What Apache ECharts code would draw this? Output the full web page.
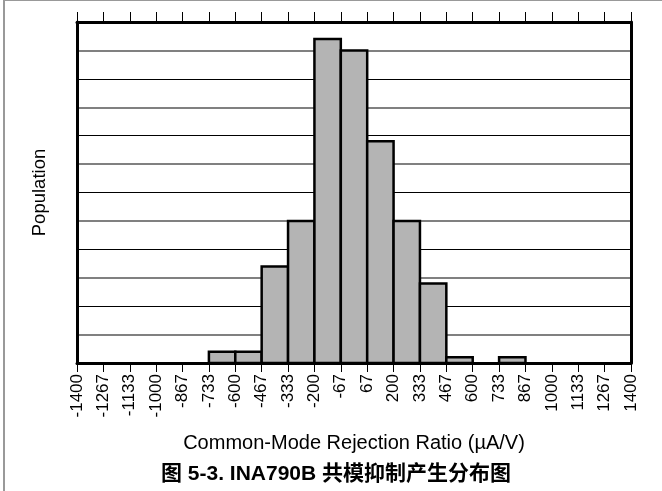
<!DOCTYPE html>
<html>
<head>
<meta charset="utf-8">
<script src="https://cdn.jsdelivr.net/npm/echarts@6/dist/echarts.min.js"></script>
<style>
html,body{margin:0;padding:0;background:#fff;}
#chart{width:662px;height:491px;}
</style>
</head>
<body>
<div id="chart"></div>
<script>
// Bin edge labels (µA/V)
var binEdgeLabels = ['-1400','-1267','-1133','-1000','-867','-733','-600','-467','-333','-200','-67','67','200','333','467','600','733','867','1000','1133','1267','1400'];
// Relative population per bin (grid units)
var binCounts = [0,0,0,0,0,0.4,0.4,3.4,5.0,11.4,11.0,7.8,5.0,2.8,0.2,0,0.2,0,0,0,0];
var yMax = 12;
var xTitle = 'Common-Mode Rejection Ratio (\u00B5A/V)';
var yTitle = 'Population';
var caption = '图 5-3. INA790B 共模抑制产生分布图';

var FONT = '"Liberation Sans", Arial, "Noto Sans CJK SC", sans-serif';
var nBins = binEdgeLabels.length - 1;
var barData = binCounts.map(function (v, i) { return [i, v]; });

var chart = echarts.init(document.getElementById('chart'), null, {renderer: 'canvas'});
chart.setOption({
  animation: false,
  backgroundColor: '#fff',
  grid: {left: 77, top: 22, width: 554, height: 341, containLabel: false},
  xAxis: [{
    type: 'value', position: 'bottom', min: 0, max: nBins, interval: 1,
    axisLine: {show: true, onZero: false, lineStyle: {color: '#000', width: 3}},
    axisTick: {show: true, inside: false, length: 9, lineStyle: {color: '#000', width: 1}},
    axisLabel: {show: true, rotate: 90, margin: 11, fontFamily: FONT, fontSize: 17, color: '#000',
      formatter: function (v) { return binEdgeLabels[Math.round(v)]; }},
    splitLine: {show: false},
    name: xTitle, nameLocation: 'middle', nameGap: 70,
    nameTextStyle: {fontFamily: FONT, fontSize: 20, color: '#000'}
  }, {
    type: 'value', position: 'top', min: 0, max: nBins, interval: 1,
    axisLine: {show: true, onZero: false, lineStyle: {color: '#000', width: 3}},
    axisTick: {show: true, inside: false, length: 10, lineStyle: {color: '#000', width: 1}},
    axisLabel: {show: false},
    splitLine: {show: false}
  }],
  yAxis: [{
    type: 'value', position: 'left', min: 0, max: yMax, interval: 1,
    axisLine: {show: true, onZero: false, lineStyle: {color: '#000', width: 3}},
    axisTick: {show: false}, axisLabel: {show: false},
    splitLine: {show: true, showMinLine: true, showMaxLine: false,
      lineStyle: {color: ['rgba(0,0,0,0)', '#808080'], width: 2}},
    name: yTitle, nameLocation: 'middle', nameGap: 28,
    nameTextStyle: {fontFamily: FONT, fontSize: 18.5, color: '#000'}
  }, {
    type: 'value', position: 'right', min: 0, max: yMax, interval: 2,
    axisLine: {show: true, onZero: false, lineStyle: {color: '#000', width: 3}},
    axisTick: {show: false}, axisLabel: {show: false},
    splitLine: {show: true, showMinLine: false, showMaxLine: false,
      lineStyle: {color: '#000', width: 1}}
  }],
  title: {
    text: caption, left: 331, top: 459, textAlign: 'center',
    textStyle: {fontFamily: FONT, fontSize: 21, fontWeight: 'bold', color: '#000'}
  },
  graphic: [
    {type: 'line', shape: {x1: 4, y1: 0, x2: 4, y2: 491}, style: {stroke: '#999', lineWidth: 2}, silent: true},
    {type: 'line', shape: {x1: 4, y1: 0.5, x2: 662, y2: 0.5}, style: {stroke: '#999', lineWidth: 1}, silent: true}
  ],
  series: [{
    type: 'custom',
    xAxisIndex: 0, yAxisIndex: 0,
    data: barData,
    z: 5,
    renderItem: function (params, api) {
      var i = api.value(0), v = api.value(1);
      if (!v) return null;
      var p0 = api.coord([i, 0]);
      var p1 = api.coord([i + 1, v]);
      return {
        type: 'rect',
        shape: {x: p0[0], y: p1[1], width: p1[0] - p0[0], height: p0[1] - p1[1]},
        style: {fill: '#b4b4b4', stroke: '#000', lineWidth: 2.5}
      };
    }
  }]
});
</script>
</body>
</html>
